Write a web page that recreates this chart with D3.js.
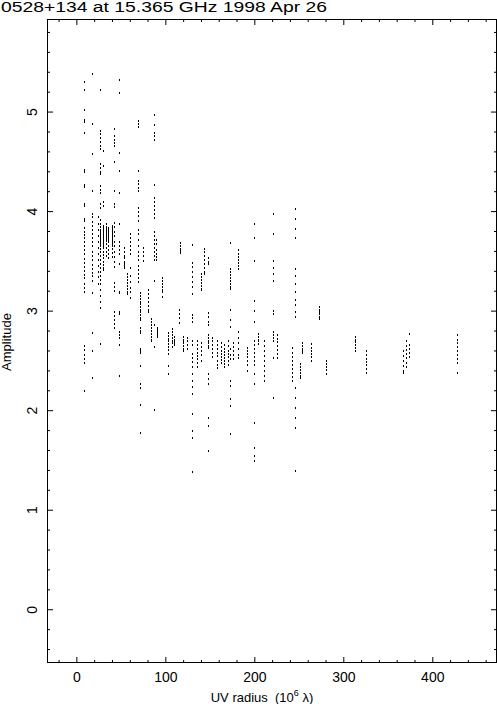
<!DOCTYPE html>
<html>
<head>
<meta charset="utf-8">
<script src="https://cdn.jsdelivr.net/npm/d3@7"></script>
<style>
  body { margin: 0; background: #fff; }
  svg { display: block; }
  text { font-family: "Liberation Sans", Arial, sans-serif; fill: #000; }
</style>
</head>
<body>
<svg id="chart" width="497" height="704"></svg>
<script>

// Each entry is one baseline track: its UV radius (10^6 lambda) and the amplitudes
var uvRadius = [
  9, 18, 24, 27, 30, 33, 36, 40, 42, 48,
  54, 57, 60, 69, 72, 75, 81, 84, 87, 89,
  91, 96, 103, 107, 110, 115, 116, 120, 124, 130,
  136, 140, 144, 148, 152, 158, 162, 166, 170, 173,
  176, 182, 192, 200, 204, 211, 221, 226, 242, 246,
  251, 254, 264, 273, 280, 313, 325, 367, 371, 374,
  428
];

var amplitude = [
  [5.31, 5.23, 5.03, 4.93, 4.91, 4.79, 4.42, 4.40, 4.27, 4.25, 4.08, 4.06, 3.93, 3.91, 3.84, 3.80, 3.77, 3.74, 3.70, 3.66, 3.62, 3.58, 3.53, 3.49, 3.45, 3.41, 3.37, 3.34, 3.28, 3.24, 3.20, 2.65, 2.61, 2.56, 2.52, 2.48, 2.20],
  [5.39, 4.89, 4.58, 4.21, 3.98, 3.95, 3.90, 3.86, 3.82, 3.78, 3.74, 3.70, 3.66, 3.60, 3.56, 3.52, 3.47, 3.43, 3.39, 3.36, 3.31, 3.19, 2.79, 2.60, 2.33],
  [3.95, 3.88, 3.82, 3.76, 3.70, 3.64, 3.58, 3.52, 3.46, 3.40, 3.35, 3.28],
  [5.23, 4.81, 4.78, 4.74, 4.70, 4.66, 4.63, 4.48, 4.44, 4.40, 4.38, 4.26, 4.22, 4.19, 4.08, 4.04, 3.92, 3.88, 3.85, 3.82, 3.80, 3.78, 3.76, 3.74, 3.72, 3.70, 3.68, 3.66, 3.63, 3.60, 3.56, 3.52, 3.48, 3.44, 3.40, 3.36, 3.32, 3.28, 3.22, 3.16, 3.10, 3.04, 2.67],
  [4.61, 4.46, 4.10, 4.06, 3.86, 3.84, 3.82, 3.80, 3.78, 3.76, 3.74, 3.72, 3.70, 3.68, 3.66, 3.64, 3.60, 3.57, 3.54, 3.50, 3.47, 3.44, 3.42],
  [3.88, 3.85, 3.83, 3.81, 3.79, 3.77, 3.75, 3.73, 3.71, 3.68, 3.64, 3.60, 3.56],
  [3.84, 3.82, 3.80, 3.78, 3.76, 3.74, 3.72, 3.70, 3.66, 3.62, 3.58, 3.54],
  [3.86, 3.84, 3.82, 3.80, 3.78, 3.76, 3.74, 3.72, 3.70, 3.68, 3.66, 3.63, 3.59, 3.55],
  [4.83, 4.76, 4.72, 4.69, 4.66, 4.50, 4.21, 4.08, 4.05, 3.89, 3.85, 3.80, 3.76, 3.70, 3.66, 3.60, 3.55, 3.50, 3.45, 3.29, 3.25, 3.21, 3.00, 2.96, 2.92, 2.88, 2.84],
  [5.33, 5.20, 4.59, 4.41, 4.19, 3.88, 3.70, 3.66, 3.62, 3.58, 3.48, 3.20, 3.19, 3.00, 2.98, 2.80, 2.77, 2.74, 2.66, 2.35],
  [3.64, 3.60, 3.56, 3.54, 3.50, 3.48, 3.46, 3.44],
  [3.38, 3.35, 3.32, 3.29, 3.26, 3.23, 3.20, 3.18],
  [3.78, 3.74, 3.70, 3.66, 3.62, 3.58, 3.44, 3.36, 3.30, 3.24, 3.20, 3.14],
  [4.92, 4.89, 4.86, 4.41, 4.31, 4.28, 4.24, 4.21, 4.04, 4.00, 3.96, 3.91, 3.82, 3.78, 3.72, 3.66, 3.60, 3.56, 3.52, 3.46, 3.42, 3.38, 3.34, 3.30],
  [3.19, 3.16, 3.13, 3.10, 3.08, 3.05, 3.02, 3.00, 2.97, 2.94, 2.92, 2.84, 2.81, 2.79, 2.62, 2.60, 2.58, 2.45, 2.27, 2.23, 2.06, 1.78],
  [3.64, 3.60, 3.56, 3.51],
  [3.22, 3.18, 3.14, 3.10, 3.06, 3.02, 3.00],
  [2.93, 2.90, 2.87, 2.84, 2.81, 2.78, 2.75, 2.72, 2.70],
  [4.98, 4.88, 4.79, 4.76, 4.72, 4.27, 4.14, 4.10, 4.06, 4.02, 3.98, 3.94, 3.80, 3.76, 3.72, 3.68, 3.64, 3.60, 3.56, 3.52, 3.31, 2.87, 2.64, 2.01],
  [3.72, 3.68, 3.62, 3.58, 3.55, 3.52],
  [2.84, 2.82, 2.80, 2.78, 2.76, 2.75],
  [3.34, 3.31, 3.28, 3.25, 3.22, 3.20, 3.15],
  [2.79, 2.76, 2.73, 2.70, 2.67, 2.64, 2.61, 2.57, 2.45, 2.37],
  [2.83, 2.80, 2.77, 2.74, 2.71, 2.68, 2.64],
  [2.75, 2.72, 2.70, 2.68, 2.66],
  [3.02, 2.98, 2.94, 2.89],
  [3.69, 3.66, 3.63, 3.61, 3.59],
  [2.75, 2.72, 2.70, 2.68, 2.65, 2.62, 2.60],
  [2.74, 2.70, 2.66, 2.62],
  [3.67, 3.49, 3.45, 3.40, 3.35, 3.30, 3.25, 3.18, 2.97, 2.94, 2.90, 2.70, 2.66, 2.57, 2.53, 2.49, 2.44, 2.37, 2.30, 2.24, 2.17, 1.97, 1.80, 1.73, 1.39],
  [2.70, 2.66, 2.62, 2.58, 2.55, 2.52, 2.48, 2.44],
  [3.38, 3.35, 3.32, 3.29, 3.26, 3.23, 3.22, 2.68, 2.64, 2.60, 2.56, 2.50],
  [3.63, 3.60, 3.56, 3.52, 3.48, 3.44, 3.40, 3.38],
  [3.54, 3.50, 3.48, 2.99, 2.95, 2.90, 2.87, 2.77, 2.74, 2.71, 2.68, 2.65, 2.63, 2.37, 2.32, 2.27, 1.93, 1.85, 1.60],
  [2.74, 2.70, 2.66, 2.62, 2.58, 2.54],
  [2.70, 2.66, 2.62, 2.58, 2.55, 2.50, 2.46, 2.43],
  [2.68, 2.64, 2.60, 2.57, 2.54, 2.51, 2.48],
  [2.66, 2.62, 2.59, 2.56, 2.53, 2.50, 2.47, 2.44],
  [2.70, 2.65, 2.60, 2.57, 2.54, 2.50, 2.46],
  [3.69, 3.43, 3.40, 3.37, 3.34, 3.31, 3.28, 3.25, 3.23, 3.02, 2.92, 2.85, 2.62, 2.56, 2.52, 2.30, 2.25, 2.12, 2.05, 1.77],
  [2.68, 2.64, 2.60, 2.56, 2.52],
  [3.62, 3.58, 3.55, 3.52, 3.49, 3.46, 3.43, 2.80, 2.74, 2.68, 2.62, 2.56, 2.53],
  [2.63, 2.60, 2.57, 2.54, 2.50, 2.46, 2.40],
  [3.88, 3.74, 3.51, 3.11, 3.01, 2.90, 2.70, 2.66, 2.62, 2.58, 2.54, 2.50, 2.46, 2.37, 2.27, 1.88, 1.63, 1.55, 1.50],
  [2.78, 2.75, 2.72, 2.70, 2.67],
  [2.70, 2.65, 2.60, 2.55, 2.50, 2.45, 2.40, 2.35, 2.30],
  [3.98, 3.78, 3.51, 3.44, 3.38, 3.31, 3.01, 2.98, 2.80, 2.77, 2.74, 2.70, 2.53, 2.13],
  [2.77, 2.73, 2.69, 2.65, 2.61, 2.57, 2.53],
  [2.63, 2.58, 2.54, 2.50, 2.46, 2.42, 2.38, 2.34, 2.30],
  [4.03, 3.93, 3.83, 3.74, 3.43, 3.36, 3.28, 3.20, 3.12, 3.07, 3.00, 2.95, 2.23, 2.13, 2.03, 1.93, 1.83, 1.40],
  [2.47, 2.44, 2.41, 2.38, 2.35, 2.33],
  [2.68, 2.65, 2.62, 2.60, 2.58],
  [2.67, 2.63, 2.60, 2.57, 2.54, 2.50],
  [3.05, 3.02, 3.00, 2.98, 2.95, 2.93],
  [2.50, 2.47, 2.44, 2.41, 2.37],
  [2.75, 2.72, 2.69, 2.66, 2.63, 2.60],
  [2.60, 2.56, 2.52, 2.49, 2.46, 2.42, 2.38],
  [2.60, 2.55, 2.50, 2.45, 2.40, 2.38],
  [2.70, 2.65, 2.61, 2.57, 2.53, 2.48, 2.44],
  [2.78, 2.66, 2.62, 2.58, 2.54],
  [2.77, 2.72, 2.68, 2.64, 2.60, 2.56, 2.52, 2.48, 2.38]
];

var xTicks = [0, 100, 200, 300, 400];
var yTicks = [0, 1, 2, 3, 4, 5];

var svg = d3.select("#chart");

var x = d3.scaleLinear().domain([-33, 471.6]).range([47, 496]);
var y = d3.scaleLinear().domain([-0.53, 5.93]).range([662, 19]);

var xMinor = d3.range(-20, 471, 20).filter(function(d) { return d % 100 !== 0; });
var yMinor = d3.range(-0.4, 5.9, 0.2).filter(function(d) { return Math.abs(d - Math.round(d)) > 0.01; });

// frame
svg.append("rect")
  .attr("x", 47.5).attr("y", 19.5)
  .attr("width", 449).attr("height", 643)
  .attr("fill", "none").attr("stroke", "#000");

function addAxis(axis, tx, ty) {
  var g = svg.append("g").attr("transform", "translate(" + tx + "," + ty + ")").call(axis);
  g.select(".domain").remove();
  g.selectAll("line").attr("stroke", "#000");
  return g;
}

// bottom
var bottom = addAxis(d3.axisBottom(x).tickValues(xTicks).tickSize(-6).tickPadding(9).tickFormat(d3.format("d")), 0, 663);
bottom.selectAll("text").attr("font-size", 14).attr("font-family", "Liberation Sans, Arial, sans-serif");
addAxis(d3.axisBottom(x).tickValues(xMinor).tickSize(-3).tickFormat(""), 0, 663);
// top
addAxis(d3.axisTop(x).tickValues(xTicks).tickSize(-6).tickFormat(""), 0, 19);
addAxis(d3.axisTop(x).tickValues(xMinor).tickSize(-3).tickFormat(""), 0, 19);
// left
var left = addAxis(d3.axisLeft(y).tickValues(yTicks).tickSize(-6).tickFormat(d3.format("d")), 47, 0);
left.selectAll("text")
  .attr("x", null).attr("dy", null)
  .attr("font-size", 14).attr("font-family", "Liberation Sans, Arial, sans-serif")
  .attr("text-anchor", "middle")
  .attr("transform", "translate(-10,0) rotate(-90)");
addAxis(d3.axisLeft(y).tickValues(yMinor).tickSize(-3).tickFormat(""), 47, 0);
// right
addAxis(d3.axisRight(y).tickValues(yTicks).tickSize(-6).tickFormat(""), 497, 0);
addAxis(d3.axisRight(y).tickValues(yMinor).tickSize(-3).tickFormat(""), 497, 0);

// points
var points = [];
uvRadius.forEach(function(uv, i) {
  amplitude[i].forEach(function(a) { points.push({ uv: uv, amp: a }); });
});

svg.append("g").selectAll("rect")
  .data(points)
  .enter().append("rect")
  .attr("x", function(d) { return Math.round(x(d.uv)); })
  .attr("y", function(d) { return Math.round(y(d.amp)); })
  .attr("width", 1).attr("height", 2)
  .attr("fill", "#000");

// titles
svg.append("text")
  .attr("x", 1).attr("y", 12)
  .attr("font-size", 14)
  .attr("textLength", 326)
  .attr("lengthAdjust", "spacingAndGlyphs")
  .text("0528+134 at 15.365 GHz 1998 Apr 26");

var xl = svg.append("text")
  .attr("x", 262).attr("y", 702)
  .attr("font-size", 13)
  .attr("text-anchor", "middle");
xl.append("tspan").text("UV radius\u00a0\u00a0(10");
xl.append("tspan").attr("dy", -6).attr("font-size", 9).text("6");
xl.append("tspan").attr("dy", 6).text(" \u03bb)");

svg.append("text")
  .attr("transform", "translate(11,342) rotate(-90)")
  .attr("font-size", 13)
  .attr("text-anchor", "middle")
  .text("Amplitude");

</script>
</body>
</html>
